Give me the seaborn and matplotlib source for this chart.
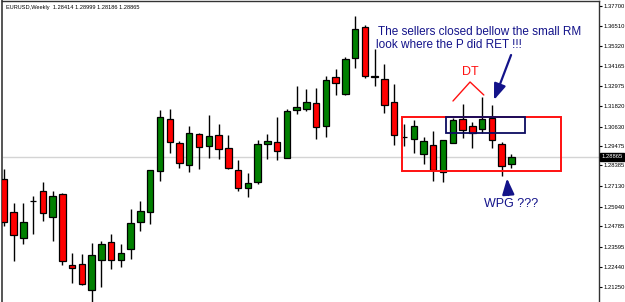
import matplotlib
matplotlib.use("Agg")
import numpy as np
import pandas as pd
import matplotlib.pyplot as plt
import matplotlib.transforms as mtransforms
from matplotlib.patches import Rectangle
import seaborn as sns

# ---- data (EURUSD weekly candles) ----
opens = [1.27561, 1.25649, 1.24094, 1.26292, 1.26842, 1.25357, 1.26666, 1.22515, 1.22573, 1.21088,
         1.22842, 1.23860, 1.22807, 1.23450, 1.25029, 1.25614, 1.28011, 1.31087, 1.29666, 1.28362,
         1.30175, 1.29473, 1.30116, 1.29356, 1.28070, 1.27035, 1.27368, 1.29590, 1.29742, 1.28771,
         1.31595, 1.31683, 1.32022, 1.30660, 1.33507, 1.32513, 1.34618, 1.36431, 1.33583, 1.33408,
         1.32046, 1.30017, 1.29882, 1.29040, 1.29531, 1.27988, 1.29648, 1.31052, 1.30642, 1.30467,
         1.31110, 1.29590, 1.28414]
highs = [1.28146, 1.26158, 1.26158, 1.26567, 1.27386, 1.26842, 1.26725, 1.23217, 1.23158, 1.23801,
         1.23936, 1.24345, 1.23760, 1.25807, 1.26292, 1.28070, 1.31595, 1.31636, 1.29800, 1.30660,
         1.30251, 1.31332, 1.30759, 1.30116, 1.28654, 1.27929, 1.29824, 1.30210, 1.31169, 1.31636,
         1.32999, 1.32806, 1.32864, 1.33566, 1.33975, 1.34694, 1.37092, 1.36565, 1.35162, 1.34285,
         1.33098, 1.30777, 1.30993, 1.30017, 1.30385, 1.29824, 1.31110, 1.31964, 1.30876, 1.32373,
         1.31888, 1.29742, 1.28999]
lows = [1.24813, 1.22784, 1.23743, 1.24328, 1.25105, 1.23953, 1.22515, 1.21498, 1.21346, 1.20387,
        1.21246, 1.22281, 1.22433, 1.22866, 1.24538, 1.24930, 1.27462, 1.29099, 1.28204, 1.27953,
        1.28163, 1.28789, 1.28748, 1.28128, 1.26842, 1.26491, 1.27286, 1.28713, 1.28672, 1.28771,
        1.31344, 1.31537, 1.29882, 1.30034, 1.32490, 1.32490, 1.34034, 1.33466, 1.32981, 1.31402,
        1.29566, 1.29490, 1.29064, 1.28420, 1.27444, 1.27368, 1.29648, 1.29941, 1.29356, 1.30268,
        1.29356, 1.27754, 1.28186]
closes = [1.25047, 1.24269, 1.25029, 1.26275, 1.25573, 1.26549, 1.22749, 1.22375, 1.21439, 1.23100,
          1.23743, 1.22807, 1.23217, 1.24971, 1.25672, 1.28070, 1.31204, 1.29707, 1.28496, 1.30233,
          1.29414, 1.30093, 1.29297, 1.28222, 1.27017, 1.27310, 1.29590, 1.29765, 1.29181, 1.31519,
          1.31753, 1.32046, 1.30601, 1.33332, 1.33156, 1.34560, 1.36331, 1.33566, 1.33525, 1.31870,
          1.30116, 1.30000, 1.30642, 1.29765, 1.28087, 1.29824, 1.31011, 1.30408, 1.30268, 1.31052,
          1.29824, 1.28321, 1.28865]

ytick_values = [1.37700, 1.36510, 1.35320, 1.34165, 1.32975, 1.31820, 1.30630, 1.29475,
                1.28385, 1.27130, 1.25940, 1.24785, 1.23595, 1.22440, 1.21250]
ytick_labels = ["1.37700", "1.36510", "1.35320", "1.34165", "1.32975", "1.31820", "1.30630",
                "1.29475", "1.28385", "1.27130", "1.25940", "1.24785", "1.23595", "1.22440", "1.21250"]
title_text = "EURUSD,Weekly  1.28414 1.28999 1.28186 1.28865"
last_price = 1.28865
last_price_label = "1.28865"

df = pd.DataFrame({"week": np.arange(len(opens)), "open": opens, "high": highs,
                   "low": lows, "close": closes})
df["bottom"] = df[["open", "close"]].min(axis=1)
df["height"] = (df["close"] - df["open"]).abs()
df["color"] = np.where(df["close"] > df["open"], "#008000", "#ff0000")

sns.set_theme(style="white")
plt.rcParams["font.family"] = ["Liberation Sans", "DejaVu Sans"]

W, H = 625, 302
fig = plt.figure(figsize=(W / 100, H / 100), dpi=100)
ax = fig.add_axes([2 / W, 0, 597 / W, 301 / H])
ax.set_facecolor("white")

# current price line
ax.axhline(last_price, color="#d4d4d4", lw=1, zorder=0)

# candles
ax.vlines(df["week"], df["low"], df["high"], color="black", lw=1, zorder=2)
ax.bar(df["week"], df["height"], bottom=df["bottom"], width=0.66,
       color=df["color"], edgecolor="black", linewidth=0.9, zorder=3)

ax.set_xlim(-0.184, 60.98)
ax.set_ylim(1.20369, 1.37969)

# axes styling
for side in ["left", "top", "right"]:
    ax.spines[side].set_visible(True)
    ax.spines[side].set_color("#333333")
    ax.spines[side].set_linewidth(1)
ax.spines["left"].set_linewidth(1.4)
ax.spines["left"].set_color("#555555")
ax.spines["bottom"].set_visible(False)
ax.set_xticks([])
ax.yaxis.tick_right()
ax.set_yticks(ytick_values)
ax.set_yticklabels(ytick_labels)
ax.tick_params(axis="y", length=2, width=0.8, pad=1.5, labelsize=4.2, colors="black",
               right=True, left=False)

# title
ax.text(0.0067, 0.980, title_text, transform=ax.transAxes, fontsize=4.1,
        va="center", ha="left", color="black")

# current price box
trans = mtransforms.blended_transform_factory(ax.transAxes, ax.transData)
ax.text(1.004, last_price, last_price_label, transform=trans, fontsize=4.2, color="white",
        va="center", ha="left", clip_on=False,
        bbox=dict(facecolor="black", edgecolor="black", pad=1.2))

navy = "#13138a"
# rectangles
ax.add_patch(Rectangle((40.75, 1.28026), 57.04 - 40.75, 1.31215 - 1.28026,
                       fill=False, edgecolor="#ff1010", lw=1.4, zorder=4))
ax.add_patch(Rectangle((45.28, 1.30268), 53.40 - 45.28, 1.31204 - 1.30268,
                       fill=False, edgecolor="#0c0c60", lw=1.3, zorder=4))

# DT marker
ax.plot([46.02, 47.77, 49.18], [1.32122, 1.33233, 1.32473], color="#ff1010", lw=1, zorder=4)
ax.text(47.77, 1.33817, "DT", color="#ff1010", fontsize=9, ha="center", va="center")

# arrows
ax.annotate("", xy=(50.22, 1.32180), xytext=(51.97, 1.34811),
            arrowprops=dict(arrowstyle="-|>,head_length=0.8,head_width=0.3", color=navy,
                            lw=1.6, shrinkA=0, shrinkB=0), zorder=5)
ax.annotate("", xy=(51.56, 1.27602), xytext=(51.69, 1.26625),
            arrowprops=dict(arrowstyle="-|>,head_length=0.8,head_width=0.3", color=navy,
                            lw=1.6, shrinkA=0, shrinkB=0), zorder=5)

# texts
ax.text(38.34, 1.36150, "The sellers closed bellow the small RM", color=navy,
        fontsize=8.5, ha="left", va="center")
ax.text(38.14, 1.35420, "look where the P did RET !!!", color=navy,
        fontsize=8.5, ha="left", va="center")
ax.text(51.97, 1.26072, "WPG ???", color=navy, fontsize=9, ha="center", va="center")

fig.savefig("out.png", dpi=100)
